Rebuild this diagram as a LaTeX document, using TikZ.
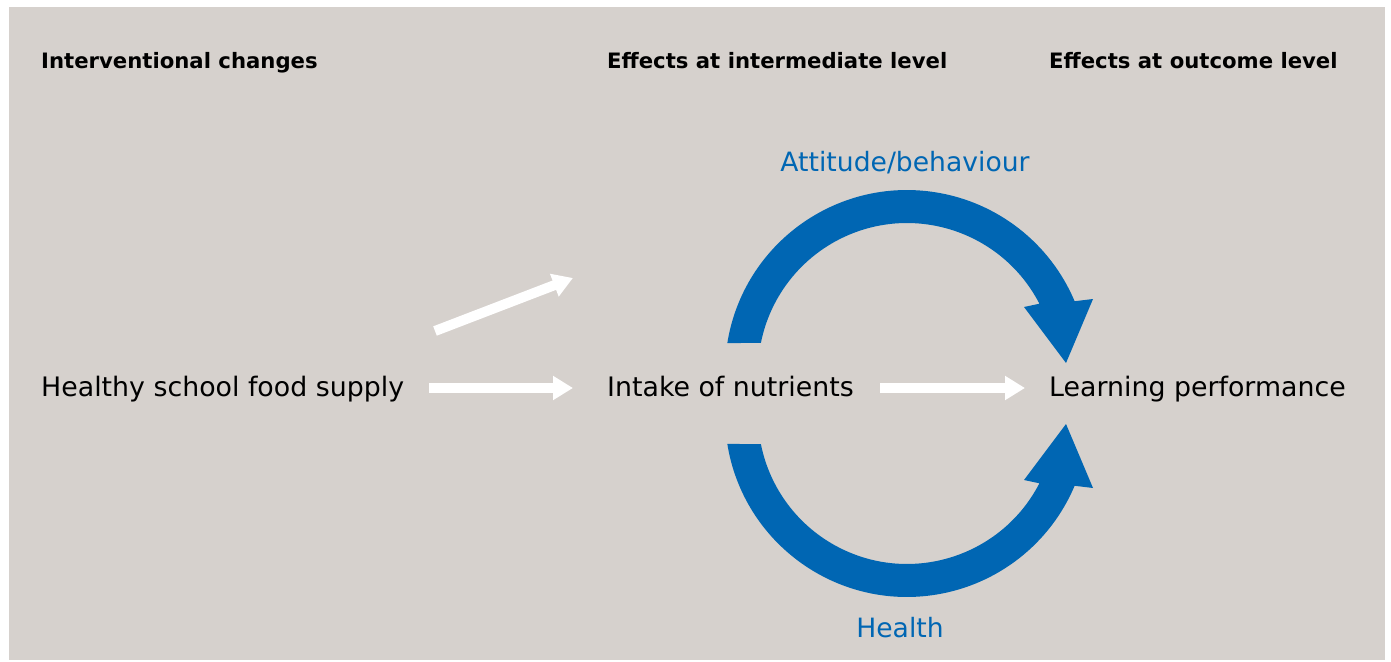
\documentclass[tikz,border=0pt]{standalone}
\usepackage{fontspec}
\setmainfont{DejaVu Sans}
\usetikzlibrary{arrows.meta}
\definecolor{panelgrey}{RGB}{214,209,205}
\definecolor{pathblue}{RGB}{0,102,179}
\begin{document}
\begin{tikzpicture}[x=1pt,y=-1pt,
  heading/.style={anchor=base west, inner sep=0pt, font=\fontsize{21.2}{24}\selectfont\bfseries},
  bodytext/.style={anchor=base west, inner sep=0pt, font=\fontsize{26.8}{30}\selectfont},
  pathlabel/.style={anchor=base, inner sep=0pt, text=pathblue, font=\fontsize{26.6}{30}\selectfont},
  warrow/.style={draw=white, line width=10pt, -{Triangle[length=20pt,width=23pt]}}]
% canvas and grey panel
\useasboundingbox (0,0) rectangle (1391,661);
\fill[white] (0,0) rectangle (1391,661);
\fill[panelgrey] (9,7) rectangle (1385,660);

% column headings
\node[heading] (h1) at (41,68.3) {Interventional changes};
\node[heading] (h2) at (607,68.3) {Effects at intermediate level};
\node[heading] (h3) at (1049,68.3) {Effects at outcome level};

% chain of effects
\node[bodytext] (supply) at (41,396.7) {Healthy school food supply};
\node[bodytext] (intake) at (607,396.7) {Intake of nutrients};
\node[bodytext] (learn) at (1049,396.7) {Learning performance};

% pathway labels
\node[pathlabel] (att) at (905,171) {Attitude/behaviour};
\node[pathlabel] (health) at (900,637) {Health};

% white connectors
\draw[warrow, shorten <=25pt, shorten >=34pt]
  ([yshift=8.7pt]supply.base east) -- ([yshift=8.7pt]intake.base west);
\draw[warrow, shorten <=26pt, shorten >=24pt]
  ([yshift=8.7pt]intake.base east) -- ([yshift=8.7pt]learn.base west);
\coordinate (diagtail) at (435,331);
\coordinate (diagtip) at (573,278);
\draw[warrow] (diagtail) -- (diagtip);

% curved blue arrows: upper (attitude/behaviour) and lower (health)
\fill[pathblue] (727.3,343.1) arc[start angle=189.15, end angle=337.1, radius=182]
  -- (1093,299) -- (1066,363) -- (1024,307) -- (1039.4,303.7)
  arc[start angle=332.7, end angle=191.3, radius=149] -- cycle;
\fill[pathblue] (727.3,443.9) arc[start angle=170.85, end angle=22.9, radius=182]
  -- (1093,488) -- (1066,424) -- (1024,480) -- (1039.4,483.3)
  arc[start angle=27.3, end angle=168.7, radius=149] -- cycle;
\end{tikzpicture}
\end{document}
